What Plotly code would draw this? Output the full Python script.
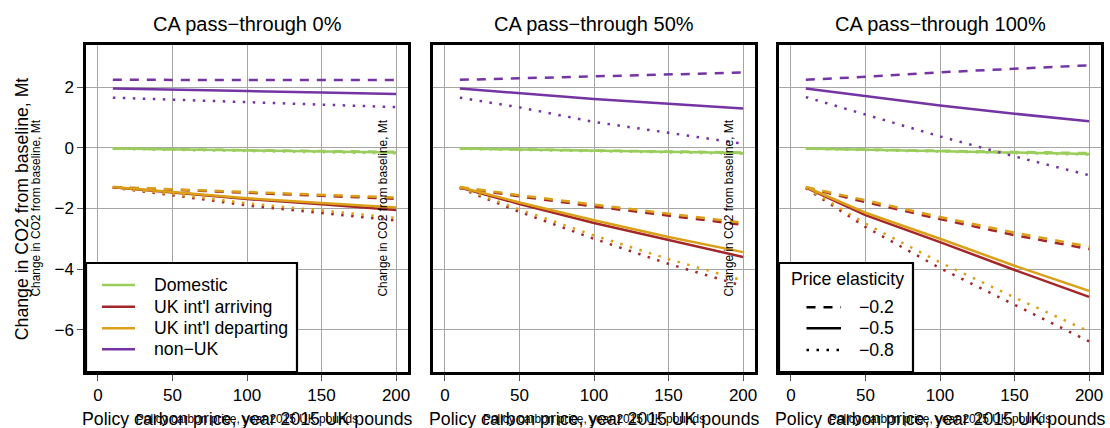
import plotly.graph_objects as go

# Policy carbon price (year-2015 UK pounds) at which each scenario is evaluated
carbon_price = [10, 50, 100, 150, 200]

panel_titles = ["CA pass−through 0%", "CA pass−through 50%", "CA pass−through 100%"]
sector_names = ["Domestic", "UK int'l arriving", "UK int'l departing", "non−UK"]
elasticity_labels = ["−0.2", "−0.5", "−0.8"]
x_ticks = [0, 50, 100, 150, 200]
y_ticks = [-6, -4, -2, 0, 2]

# Change in CO2 from baseline (Mt), CA pass-through 0%
p0_domestic_e02 = [-0.02, -0.04, -0.07, -0.10, -0.13]
p0_domestic_e05 = [-0.02, -0.05, -0.08, -0.11, -0.15]
p0_domestic_e08 = [-0.03, -0.06, -0.10, -0.14, -0.18]
p0_arriving_e02 = [-1.30, -1.38, -1.49, -1.58, -1.68]
p0_arriving_e05 = [-1.30, -1.48, -1.69, -1.86, -2.05]
p0_arriving_e08 = [-1.31, -1.56, -1.90, -2.14, -2.40]
p0_departing_e02 = [-1.29, -1.36, -1.46, -1.55, -1.64]
p0_departing_e05 = [-1.29, -1.46, -1.66, -1.82, -1.97]
p0_departing_e08 = [-1.30, -1.52, -1.83, -2.06, -2.31]
p0_nonuk_e02 = [2.25, 2.25, 2.25, 2.25, 2.24]
p0_nonuk_e05 = [1.96, 1.93, 1.88, 1.83, 1.78]
p0_nonuk_e08 = [1.66, 1.59, 1.51, 1.43, 1.35]

# CA pass-through 50%
p50_domestic_e02 = [-0.02, -0.05, -0.08, -0.11, -0.15]
p50_domestic_e05 = [-0.02, -0.05, -0.09, -0.13, -0.17]
p50_domestic_e08 = [-0.03, -0.06, -0.10, -0.14, -0.19]
p50_arriving_e02 = [-1.31, -1.60, -1.93, -2.24, -2.54]
p50_arriving_e05 = [-1.31, -1.85, -2.48, -3.05, -3.60]
p50_arriving_e08 = [-1.33, -2.11, -3.00, -3.83, -4.56]
p50_departing_e02 = [-1.29, -1.56, -1.87, -2.17, -2.47]
p50_departing_e05 = [-1.29, -1.80, -2.39, -2.94, -3.44]
p50_departing_e08 = [-1.31, -2.03, -2.89, -3.67, -4.38]
p50_nonuk_e02 = [2.25, 2.30, 2.37, 2.43, 2.49]
p50_nonuk_e05 = [1.96, 1.80, 1.62, 1.46, 1.30]
p50_nonuk_e08 = [1.66, 1.34, 0.86, 0.50, 0.14]

# CA pass-through 100%
p100_domestic_e02 = [-0.02, -0.05, -0.09, -0.13, -0.17]
p100_domestic_e05 = [-0.02, -0.06, -0.10, -0.15, -0.20]
p100_domestic_e08 = [-0.03, -0.07, -0.11, -0.16, -0.22]
p100_arriving_e02 = [-1.31, -1.79, -2.35, -2.88, -3.34]
p100_arriving_e05 = [-1.31, -2.22, -3.11, -4.03, -4.92]
p100_arriving_e08 = [-1.33, -2.61, -3.97, -5.17, -6.39]
p100_departing_e02 = [-1.29, -1.74, -2.28, -2.80, -3.26]
p100_departing_e05 = [-1.29, -2.14, -3.00, -3.89, -4.72]
p100_departing_e08 = [-1.31, -2.50, -3.78, -4.94, -6.06]
p100_nonuk_e02 = [2.25, 2.35, 2.50, 2.62, 2.73]
p100_nonuk_e05 = [1.96, 1.70, 1.40, 1.13, 0.88]
p100_nonuk_e08 = [1.68, 1.10, 0.38, -0.28, -0.90]

panels = [
    [[p0_domestic_e02, p0_domestic_e05, p0_domestic_e08],
     [p0_arriving_e02, p0_arriving_e05, p0_arriving_e08],
     [p0_departing_e02, p0_departing_e05, p0_departing_e08],
     [p0_nonuk_e02, p0_nonuk_e05, p0_nonuk_e08]],
    [[p50_domestic_e02, p50_domestic_e05, p50_domestic_e08],
     [p50_arriving_e02, p50_arriving_e05, p50_arriving_e08],
     [p50_departing_e02, p50_departing_e05, p50_departing_e08],
     [p50_nonuk_e02, p50_nonuk_e05, p50_nonuk_e08]],
    [[p100_domestic_e02, p100_domestic_e05, p100_domestic_e08],
     [p100_arriving_e02, p100_arriving_e05, p100_arriving_e08],
     [p100_departing_e02, p100_departing_e05, p100_departing_e08],
     [p100_nonuk_e02, p100_nonuk_e05, p100_nonuk_e08]],
]

sector_colors = ["#9ACD5C", "#A2262A", "#DBA018", "#7434A4"]
elasticity_dash = ["9px,8px", "solid", "2.5px,7.5px"]

W, H = 1110, 428
FONT = "Liberation Sans, Arial, Helvetica, sans-serif"
panel_left = [86, 433, 779]
panel_right = [408, 755, 1101]
plot_top, plot_bottom = 45, 372


def px(x):
    return x / W


def py(y):
    return 1 - y / H


fig = go.Figure()

for p, panel in enumerate(panels):
    suffix = "" if p == 0 else str(p + 1)
    for e in range(3):
        for s, series in enumerate(panel):
            fig.add_trace(go.Scatter(
                x=carbon_price, y=series[e],
                mode="lines",
                line=dict(color=sector_colors[s], width=2.5, dash=elasticity_dash[e]),
                xaxis="x" + suffix, yaxis="y" + suffix,
                showlegend=False, hoverinfo="skip",
            ))

layout = dict(
    width=W, height=H,
    margin=dict(l=0, r=0, t=0, b=0),
    paper_bgcolor="white", plot_bgcolor="white",
    font=dict(family=FONT, color="black"),
    showlegend=False,
)

for p in range(3):
    suffix = "" if p == 0 else str(p + 1)
    layout["xaxis" + suffix] = dict(
        domain=[px(panel_left[p]), px(panel_right[p])],
        anchor="y" + suffix,
        range=[-8, 208], tickvals=x_ticks,
        showgrid=True, gridcolor="#A6A6A6", gridwidth=1, zeroline=False,
        showline=True, linecolor="black", linewidth=2.5, mirror=True,
        ticks="outside", ticklen=6, tickcolor="#555555",
        tickfont=dict(size=17, family=FONT), automargin=False,
    )
    layout["yaxis" + suffix] = dict(
        domain=[py(plot_bottom), py(plot_top)],
        anchor="x" + suffix,
        range=[-7.4, 3.4], tickvals=y_ticks,
        showgrid=True, gridcolor="#A6A6A6", gridwidth=1, zeroline=False,
        showline=True, linecolor="black", linewidth=2.5, mirror=True,
        ticks="outside" if p == 0 else "", ticklen=6, tickcolor="#555555",
        showticklabels=(p == 0),
        tickfont=dict(size=17, family=FONT), automargin=False,
    )

annotations = []
shapes = []

for p in range(3):
    cx = (panel_left[p] + panel_right[p]) / 2
    annotations.append(dict(
        text=panel_titles[p], x=px(cx), y=py(24), xref="paper", yref="paper",
        xanchor="center", yanchor="middle", showarrow=False,
        font=dict(size=20, family=FONT)))
    annotations.append(dict(
        text="Policy carbon price, year 2015 UK pounds", x=px(cx), y=py(419),
        xref="paper", yref="paper", xanchor="center", yanchor="middle",
        showarrow=False, font=dict(size=17.7, family=FONT)))
    annotations.append(dict(
        text="Policy carbon price, year 2015 UK pounds", x=px(cx), y=py(419),
        xref="paper", yref="paper", xanchor="center", yanchor="middle",
        showarrow=False, font=dict(size=11.9, family=FONT)))
    annotations.append(dict(
        text="Change in CO2 from baseline, Mt", x=px(panel_left[p] - 51),
        y=py((plot_top + plot_bottom) / 2), xref="paper", yref="paper",
        xanchor="center", yanchor="middle", textangle=-90, showarrow=False,
        font=dict(size=11.9, family=FONT)))

annotations.append(dict(
    text="Change in CO2 from baseline, Mt", x=px(21.7),
    y=py((plot_top + plot_bottom) / 2), xref="paper", yref="paper",
    xanchor="center", yanchor="middle", textangle=-90, showarrow=False,
    font=dict(size=17.7, family=FONT)))

# Sector legend (first panel)
shapes.append(dict(type="rect", xref="paper", yref="paper",
                   x0=px(86), x1=px(297), y0=py(372), y1=py(263),
                   line=dict(color="black", width=2.2), fillcolor="white", layer="above"))
sector_rows = [285, 306.7, 328.3, 349.3]
for s, name in enumerate(sector_names):
    shapes.append(dict(type="line", xref="paper", yref="paper",
                       x0=px(102), x1=px(135), y0=py(sector_rows[s]), y1=py(sector_rows[s]),
                       line=dict(color=sector_colors[s], width=2.5), layer="above"))
    annotations.append(dict(
        text=name, x=px(151.5), y=py(sector_rows[s]), xref="paper", yref="paper",
        xanchor="left", yanchor="middle", showarrow=False,
        font=dict(size=17.7, family=FONT)))

# Elasticity legend (third panel)
shapes.append(dict(type="rect", xref="paper", yref="paper",
                   x0=px(779), x1=px(913), y0=py(372), y1=py(263),
                   line=dict(color="black", width=2.2), fillcolor="white", layer="above"))
annotations.append(dict(
    text="Price elasticity", x=px(789), y=py(279), xref="paper", yref="paper",
    xanchor="left", yanchor="middle", showarrow=False,
    font=dict(size=17.7, family=FONT)))
elast_rows = [307.3, 328.3, 350]
for e, lab in enumerate(elasticity_labels):
    shapes.append(dict(type="line", xref="paper", yref="paper",
                       x0=px(806.5), x1=px(841), y0=py(elast_rows[e]), y1=py(elast_rows[e]),
                       line=dict(color="black", width=2.5, dash=elasticity_dash[e]),
                       layer="above"))
    annotations.append(dict(
        text=lab, x=px(856.5), y=py(elast_rows[e]), xref="paper", yref="paper",
        xanchor="left", yanchor="middle", showarrow=False,
        font=dict(size=17.7, family=FONT)))

layout["annotations"] = annotations
layout["shapes"] = shapes
fig.update_layout(**layout)

fig.write_html("out.html")
